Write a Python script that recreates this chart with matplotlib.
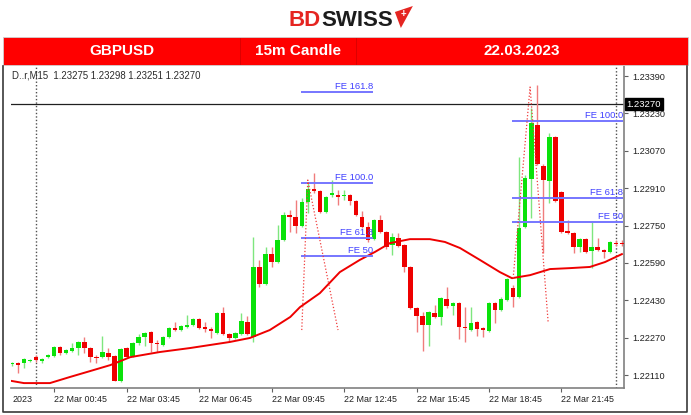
import matplotlib
matplotlib.use('Agg')
import matplotlib.pyplot as plt
from matplotlib.patches import Rectangle, Polygon
from matplotlib.lines import Line2D
import numpy as np

plt.rcParams['font.family'] = ['Liberation Sans', 'DejaVu Sans']

################
# Data
################

# 15m bars counted from 22 Mar 00:00 (bar -4 = 21 Mar 23:00)
first_bar = -4

opens = [
    1.22157, 1.22162, 1.22162, 1.22170, 1.22187, 1.22170, 1.22187, 1.22192, 1.22230, 1.22205,
    1.22213, 1.22226, 1.22252, 1.22226, 1.22187, 1.22187, 1.22205, 1.22192, 1.22085, 1.22226,
    1.22192, 1.22247, 1.22273, 1.22294, 1.22247, 1.22239, 1.22273, 1.22311, 1.22303, 1.22316,
    1.22324, 1.22350, 1.22316, 1.22307, 1.22290, 1.22376, 1.22286, 1.22269, 1.22286, 1.22337,
    1.22273, 1.22573, 1.22500, 1.22628, 1.22594, 1.22688, 1.22795, 1.22787, 1.22748, 1.22851,
    1.22906, 1.22898, 1.22808, 1.22881, 1.22881, 1.22876, 1.22881, 1.22855, 1.22787, 1.22744,
    1.22692, 1.22774, 1.22722, 1.22667, 1.22697, 1.22667, 1.22573, 1.22397, 1.22363, 1.22324,
    1.22376, 1.22359, 1.22436, 1.22406, 1.22418, 1.22316, 1.22303, 1.22337, 1.22311, 1.22299,
    1.22418, 1.22389, 1.22431, 1.22483, 1.22444, 1.22744, 1.22949, 1.23180, 1.23005, 1.22941,
    1.23129, 1.22894, 1.22727, 1.22718, 1.22658, 1.22692, 1.22641, 1.22658, 1.22645, 1.22637,
    1.22675, 1.22675]

highs = [
    1.22166, 1.22166, 1.22183, 1.22179, 1.22196, 1.22183, 1.22200, 1.22234, 1.22234, 1.22222,
    1.22247, 1.22256, 1.22273, 1.22230, 1.22196, 1.22277, 1.22226, 1.22196, 1.22226, 1.22230,
    1.22252, 1.22286, 1.22294, 1.22299, 1.22260, 1.22277, 1.22316, 1.22337, 1.22324, 1.22367,
    1.22354, 1.22354, 1.22337, 1.22316, 1.22380, 1.22401, 1.22290, 1.22294, 1.22376, 1.22363,
    1.22701, 1.22603, 1.22658, 1.22658, 1.22752, 1.22808, 1.22817, 1.22859, 1.22868, 1.22932,
    1.22975, 1.22902, 1.22876, 1.22945, 1.22902, 1.22902, 1.22885, 1.22859, 1.22812, 1.22765,
    1.22778, 1.22795, 1.22727, 1.22718, 1.22718, 1.22671, 1.22577, 1.22401, 1.22380, 1.22384,
    1.22410, 1.22444, 1.22487, 1.22423, 1.22423, 1.22401, 1.22401, 1.22341, 1.22316, 1.22423,
    1.22423, 1.22444, 1.22525, 1.22496, 1.23043, 1.22966, 1.23253, 1.23352, 1.23013, 1.23146,
    1.23133, 1.22898, 1.22774, 1.22722, 1.22697, 1.22697, 1.22769, 1.22697, 1.22650, 1.22684,
    1.22688, 1.22688]

lows = [
    1.22149, 1.22119, 1.22140, 1.22166, 1.22166, 1.22162, 1.22183, 1.22187, 1.22196, 1.22200,
    1.22209, 1.22196, 1.22205, 1.22166, 1.22162, 1.22183, 1.22175, 1.22085, 1.22080, 1.22183,
    1.22187, 1.22239, 1.22234, 1.22209, 1.22209, 1.22234, 1.22269, 1.22299, 1.22299, 1.22311,
    1.22320, 1.22307, 1.22294, 1.22269, 1.22286, 1.22281, 1.22252, 1.22264, 1.22281, 1.22281,
    1.22252, 1.22487, 1.22496, 1.22573, 1.22590, 1.22684, 1.22722, 1.22718, 1.22744, 1.22804,
    1.22889, 1.22804, 1.22804, 1.22872, 1.22838, 1.22859, 1.22838, 1.22791, 1.22739, 1.22680,
    1.22688, 1.22718, 1.22650, 1.22624, 1.22658, 1.22551, 1.22393, 1.22294, 1.22213, 1.22234,
    1.22354, 1.22324, 1.22397, 1.22367, 1.22264, 1.22252, 1.22299, 1.22277, 1.22273, 1.22294,
    1.22333, 1.22384, 1.22427, 1.22401, 1.22440, 1.22739, 1.22782, 1.23009, 1.22632, 1.22846,
    1.22851, 1.22718, 1.22714, 1.22632, 1.22637, 1.22632, 1.22568, 1.22641, 1.22611, 1.22632,
    1.22662, 1.22662]

closes = [
    1.22162, 1.22153, 1.22179, 1.22175, 1.22175, 1.22179, 1.22196, 1.22230, 1.22205, 1.22217,
    1.22226, 1.22252, 1.22226, 1.22187, 1.22183, 1.22209, 1.22187, 1.22085, 1.22222, 1.22187,
    1.22247, 1.22273, 1.22290, 1.22247, 1.22243, 1.22273, 1.22311, 1.22303, 1.22320, 1.22324,
    1.22350, 1.22311, 1.22307, 1.22299, 1.22376, 1.22286, 1.22269, 1.22290, 1.22341, 1.22286,
    1.22573, 1.22500, 1.22628, 1.22594, 1.22688, 1.22795, 1.22787, 1.22748, 1.22851, 1.22906,
    1.22898, 1.22808, 1.22872, 1.22889, 1.22872, 1.22881, 1.22855, 1.22795, 1.22744, 1.22688,
    1.22774, 1.22722, 1.22658, 1.22701, 1.22662, 1.22573, 1.22397, 1.22363, 1.22324, 1.22380,
    1.22359, 1.22440, 1.22406, 1.22418, 1.22316, 1.22311, 1.22333, 1.22307, 1.22303, 1.22418,
    1.22389, 1.22436, 1.22521, 1.22444, 1.22739, 1.22953, 1.23189, 1.23013, 1.22945, 1.23129,
    1.22855, 1.22722, 1.22718, 1.22658, 1.22692, 1.22637, 1.22658, 1.22645, 1.22637, 1.22680,
    1.22671, 1.22671]

# moving average (bar position, price)
ma_pos = [-4, -2, 2.3, 5.6, 8.9, 12.3, 15.6, 20.5, 25.5, 28.8, 32.1, 35.4, 38.7, 42.1, 43.7,
          47.0, 50.3, 53.6, 56.1, 58.6, 61.9, 65.2, 67.7, 70.2, 73.5, 76.8, 78.8, 81.8, 85.1,
          88.4, 91.7, 94.2, 97.0]
ma_vals = [1.22085, 1.22076, 1.22076, 1.22102, 1.22127, 1.22153, 1.22187, 1.22209, 1.22226,
           1.22239, 1.22252, 1.22269, 1.22303, 1.22359, 1.22401, 1.22461, 1.22551, 1.22603,
           1.22637, 1.22675, 1.22692, 1.22692, 1.22680, 1.22654, 1.22603, 1.22551, 1.22525,
           1.22538, 1.22564, 1.22568, 1.22573, 1.22594, 1.22628]

# fibonacci expansions
fe1_labels = ['FE 161.8', 'FE 100.0', 'FE 61.8', 'FE 50']
fe1_prices = [1.23322, 1.22932, 1.22697, 1.22620]
fe1_span = (43.9, 55.8)
fe1_abc_pos = [44.0, 45.0, 50.0]
fe1_abc_val = [1.22303, 1.22945, 1.22303]

fe2_labels = ['FE 100.0', 'FE 61.8', 'FE 50']
fe2_prices = [1.23197, 1.22868, 1.22765]
fe2_span = (78.8, 97.2)
fe2_abc_pos = [79.0, 81.8, 84.8]
fe2_abc_val = [1.22525, 1.23343, 1.22333]

price_now = 1.23270
day_breaks = [0, 96]

price_ticks = [1.23390, 1.23230, 1.23070, 1.22910, 1.22750, 1.22590, 1.22430, 1.22270, 1.22110]
time_ticks = [3, 15, 27, 39, 51, 63, 75, 87]
time_labels = ['22 Mar 00:45', '22 Mar 03:45', '22 Mar 06:45', '22 Mar 09:45',
               '22 Mar 12:45', '22 Mar 15:45', '22 Mar 18:45', '22 Mar 21:45']

######
# MAIN
######

W, H = 691, 415

def fx(px):
    return px / W

def fy(py):
    return 1 - py / H

fig = plt.figure(figsize=(W / 100, H / 100), dpi=100)
fig.patch.set_facecolor('white')

# header: logo
t_bd = fig.text(fx(289), fy(26), 'BD', color='#e52521', fontsize=16, fontweight='bold')
fig.canvas.draw()
bb = t_bd.get_window_extent()
t_sw = fig.text(bb.x1 / W, fy(26), 'SWISS', color='#1c1c1c', fontsize=16, fontweight='bold')
fig.canvas.draw()
x_end = t_sw.get_window_extent().x1
mark = Polygon([(fx(x_end + 2), fy(12)), (fx(x_end + 20), fy(6)), (fx(x_end + 8), fy(28))],
               closed=True, transform=fig.transFigure, facecolor='#e52521', edgecolor='none')
fig.patches.append(mark)
fig.text(fx(x_end + 11), fy(13.5), '+', color='white', fontsize=7, fontweight='bold',
         ha='center', va='center')

# header: red banner
fig.patches.append(Rectangle((fx(3), fy(65)), fx(685), 28 / H, transform=fig.transFigure,
                             facecolor='#ff0000', edgecolor='#d0d0d0', lw=0.6))
for sx in [240, 356]:
    fig.lines.append(Line2D([fx(sx), fx(sx)], [fy(64), fy(38)], transform=fig.transFigure,
                            color='#b00000', lw=0.5, alpha=0.6))
for tx, txt in [(122, 'GBPUSD'), (298, '15m Candle'), (522, '22.03.2023')]:
    fig.text(fx(tx), fy(51), txt, color='white', fontsize=11, fontweight='bold',
             ha='center', va='center')

# outer frame
fig.lines.append(Line2D([fx(3), fx(3), fx(687), fx(687)], [fy(66), fy(412), fy(412), fy(66)],
                        transform=fig.transFigure, color='#3a3a3a', lw=1.2))

# chart
ax = fig.add_axes([fx(11), fy(388), (624 - 11) / W, (388 - 66) / H])
ax.set_xlim(-4.14, 97.35)
ax.set_ylim(1.22055, 1.23433)

o = np.array(opens)
h = np.array(highs)
l = np.array(lows)
c = np.array(closes)
bars = np.arange(first_bar, first_bar + len(o))
up = c >= o

ax.vlines(bars, l, h, colors=np.where(up, '#7ee67e', '#f07c7c'), lw=1.0, zorder=2)
body_bottom = np.minimum(o, c)
body_height = np.maximum(np.abs(c - o), 0.00004)
ax.bar(bars, body_height, bottom=body_bottom, width=0.74,
       color=np.where(up, '#0ae20a', '#ee0000'), linewidth=0, zorder=3)

ax.plot(ma_pos, ma_vals, color='#ee0000', lw=1.4, zorder=4)

# fibonacci expansions
for labels, prices, span, apos, aval in [
        (fe1_labels, fe1_prices, fe1_span, fe1_abc_pos, fe1_abc_val),
        (fe2_labels, fe2_prices, fe2_span, fe2_abc_pos, fe2_abc_val)]:
    ax.hlines(prices, span[0], span[1], color='#7676ff', lw=1.4, zorder=5)
    for lab, p in zip(labels, prices):
        ax.text(span[1], p + 0.00003, lab, ha='right', va='bottom', color='#4040ff',
                fontsize=6.8, zorder=6)
    ax.plot(apos, aval, color='#f03c3c', lw=0.9, ls=(0, (1, 1.6)), zorder=5)

# day separators and current price line
for b in day_breaks:
    ax.axvline(b, color='#505050', lw=1.0, ls=(0, (1, 1.5)), zorder=1)
ax.axhline(price_now, color='#202020', lw=0.9, zorder=1)
ax.text(1.004, price_now, '%.5f' % price_now, transform=ax.get_yaxis_transform(),
        color='white', fontsize=6.8, va='center', ha='left', clip_on=False, zorder=10,
        bbox=dict(facecolor='black', edgecolor='black', boxstyle='square,pad=0.2'))

# info line
fig.text(fx(12), fy(75), 'D..r,M15  1.23275 1.23298 1.23251 1.23270', color='#2a2a2a',
         fontsize=6.9, va='center', ha='left')

# axes styling
for side in ['top', 'left']:
    ax.spines[side].set_visible(False)
for side in ['bottom', 'right']:
    ax.spines[side].set_color('#808080')
    ax.spines[side].set_linewidth(1.2)

ax.yaxis.tick_right()
ax.set_yticks(price_ticks)
ax.set_yticklabels(['%.5f' % p for p in price_ticks])
ax.tick_params(axis='y', labelsize=6.6, length=3, color='#606060', pad=3, labelcolor='#202020')

ax.set_xticks(time_ticks)
ax.set_xticklabels(time_labels, ha='left')
ax.tick_params(axis='x', labelsize=6.4, length=3, color='#606060', pad=2, labelcolor='#202020')
ax.text(0.002, -0.022, '2023', transform=ax.transAxes, fontsize=6.4, color='#202020',
        ha='left', va='top')

fig.savefig('out.png', dpi=100)
